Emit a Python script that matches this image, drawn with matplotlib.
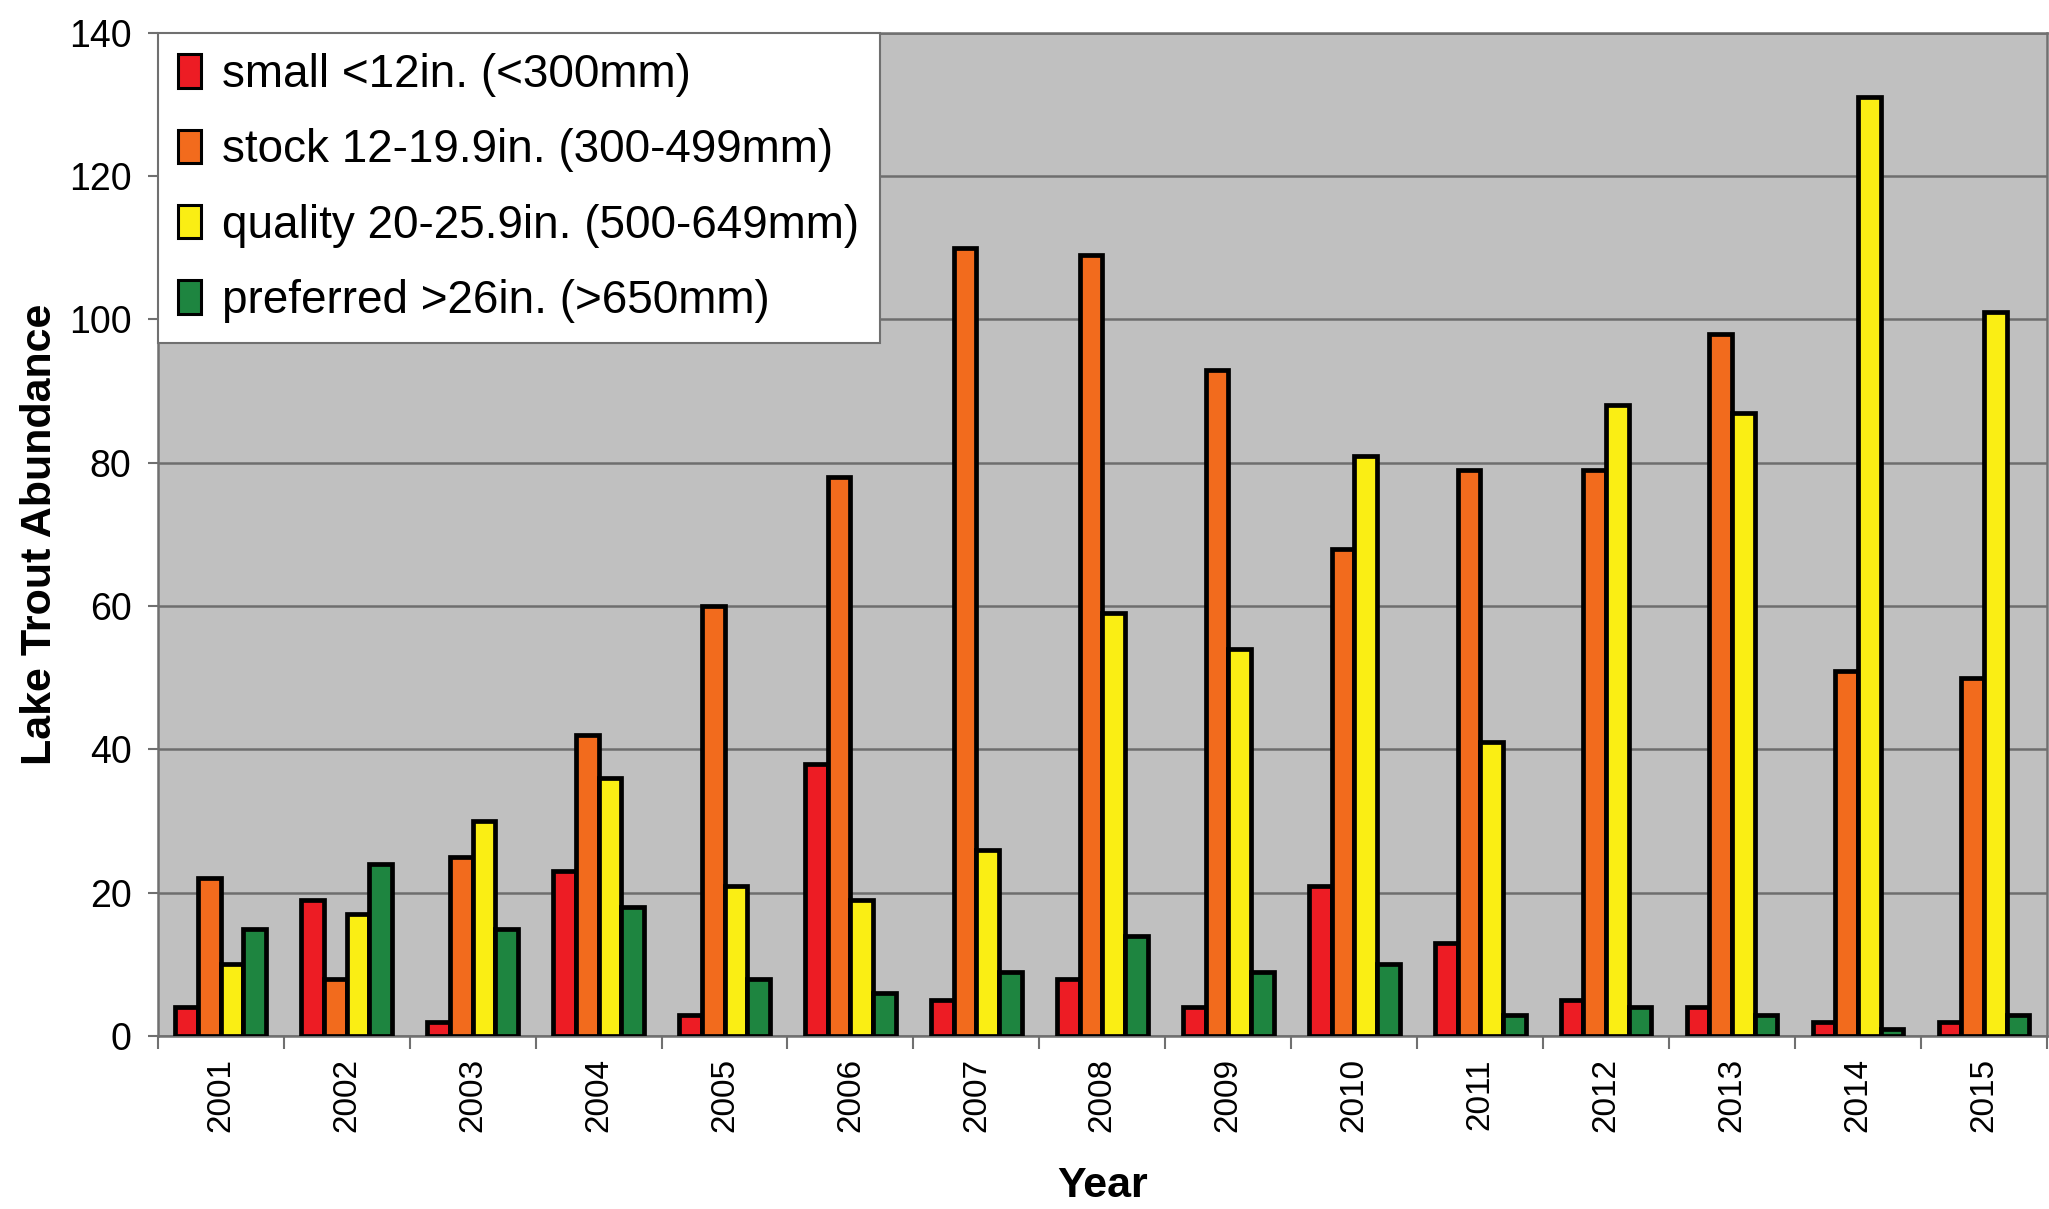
import numpy as np
import matplotlib
matplotlib.use("Agg")
import matplotlib.pyplot as plt

plt.rcParams['font.family'] = ['Liberation Sans', 'DejaVu Sans']

# data
years = ['2001', '2002', '2003', '2004', '2005', '2006', '2007', '2008',
         '2009', '2010', '2011', '2012', '2013', '2014', '2015']
small = [4, 19, 2, 23, 3, 38, 5, 8, 4, 21, 13, 5, 4, 2, 2]
stock = [22, 8, 25, 42, 60, 78, 110, 109, 93, 68, 79, 79, 98, 51, 50]
quality = [10, 17, 30, 36, 21, 19, 26, 59, 54, 81, 41, 88, 87, 131, 101]
preferred = [15, 24, 15, 18, 8, 6, 9, 14, 9, 10, 3, 4, 3, 1, 3]

labels = ['small <12in. (<300mm)',
          'stock 12-19.9in. (300-499mm)',
          'quality 20-25.9in. (500-649mm)',
          'preferred >26in. (>650mm)']
colors = ['#ED1C24', '#F26B1D', '#FAEE14', '#1E8540']
series = [small, stock, quality, preferred]

fig = plt.figure(figsize=(20.49, 12.09), dpi=100)
ax = fig.add_axes([0.077, 0.143, 0.922, 0.830])
ax.set_facecolor('#C0C0C0')

x = np.arange(len(years))
w = 0.18
for i, (vals, lab, col) in enumerate(zip(series, labels, colors)):
    ax.bar(x + (i - 1.5) * w, vals, width=w, color=col, edgecolor='black',
           linewidth=3.4, label=lab, zorder=3)

ax.set_xlim(-0.5, len(years) - 0.5)
ax.set_ylim(0, 140)
ax.set_yticks(range(0, 141, 20))
ax.yaxis.grid(True, color='#6E6E6E', linewidth=1.8, zorder=1)
ax.set_axisbelow(True)

ax.set_xticks(x)
ax.set_xticklabels(years, rotation=90, fontsize=24)
ax.set_xticks(np.arange(-0.5, len(years), 1), minor=True)
ax.tick_params(axis='x', which='major', length=0, pad=16)
ax.tick_params(axis='x', which='minor', length=9, width=1.5, color='#707070')
ax.tick_params(axis='y', length=7, width=1.5, color='#707070', labelsize=27, pad=12)
for t in ax.get_yticklabels():
    t.set_family(['Liberation Sans Narrow', 'Liberation Sans', 'DejaVu Sans'])

for s in ['top', 'left', 'bottom', 'right']:
    ax.spines[s].set_color('#707070')
    ax.spines[s].set_linewidth(1.8)

ax.set_ylabel('Lake Trout Abundance', fontsize=31, fontweight='bold', labelpad=6)
ax.set_xlabel('Year', fontsize=31, fontweight='bold', labelpad=24)

leg = ax.legend(loc='upper left', fontsize=33, frameon=True, fancybox=False,
                borderaxespad=0, handlelength=0.5, handleheight=0.75,
                handletextpad=0.45, labelspacing=0.68, borderpad=0.45)
leg.get_frame().set_edgecolor('#707070')
leg.get_frame().set_linewidth(1.5)
leg.get_frame().set_alpha(1)
for p in leg.get_patches():
    p.set_linewidth(2.2)

fig.savefig('out.png', dpi=100)
